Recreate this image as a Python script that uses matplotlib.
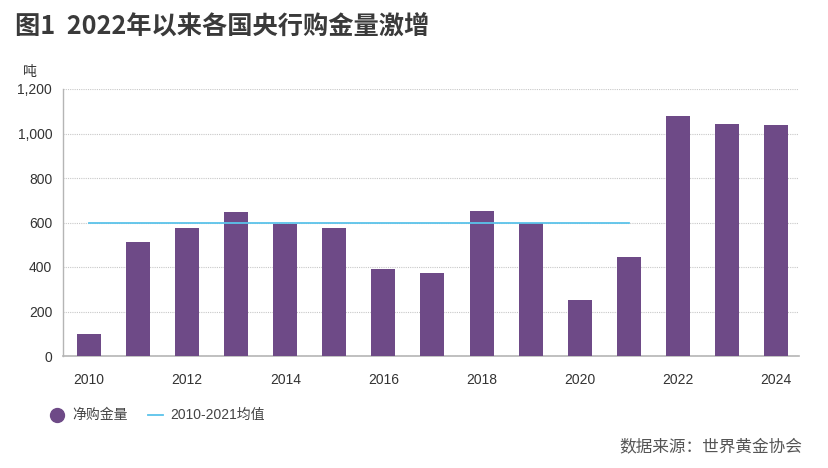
import matplotlib
matplotlib.use("Agg")
import matplotlib.pyplot as plt
from matplotlib.lines import Line2D

plt.rcParams['font.family'] = ['Liberation Sans', 'Noto Sans CJK SC', 'DejaVu Sans']

years = list(range(2010, 2025))
net_purchases = [99, 511, 577, 647, 595, 577, 391, 373, 653, 599, 250, 445, 1079, 1044, 1040]
avg_years = [2010, 2021]
avg_value = [600, 600]
yticks = [0, 200, 400, 600, 800, 1000, 1200]
ytick_labels = ["0", "200", "400", "600", "800", "1,000", "1,200"]
xticks = [2010, 2012, 2014, 2016, 2018, 2020, 2022, 2024]

title = "图1  2022年以来各国央行购金量激增"
unit = "吨"
legend_bar = "净购金量"
legend_line = "2010-2021均值"
source = "数据来源：世界黄金协会"

purple = "#6E4A87"
blue = "#5BC3EA"
gray_text = "#444444"

fig = plt.figure(figsize=(8.29, 4.68), dpi=100)
ax = fig.add_axes([63.3/829, 1-356/468, (799-63.3)/829, (356-89)/468])

ax.bar(years, net_purchases, width=0.49, color=purple, zorder=3)
ax.plot(avg_years, avg_value, color=blue, lw=1.3, zorder=4)

ax.set_ylim(0, 1200)
ax.set_xlim(2010 - 0.524, 2010 + 14.47)
ax.set_yticks(yticks)
ax.set_yticklabels(ytick_labels)
ax.set_xticks(xticks)
ax.set_xticklabels([str(x) for x in xticks])
ax.tick_params(axis='both', length=0, labelsize=10, colors="#333333")
ax.tick_params(axis='y', pad=8)
ax.tick_params(axis='x', pad=12)
ax.grid(axis='y', linestyle=(0, (1, 1)), color="#c8c8c8", lw=0.8, zorder=0)
for s in ['top', 'right']:
    ax.spines[s].set_visible(False)
ax.spines['left'].set_color("#b5b5b5")
ax.spines['bottom'].set_color("#b5b5b5")
ax.spines['left'].set_linewidth(1.0)
ax.spines['bottom'].set_linewidth(1.2)

fig.text(15/829, 1-27/468, title, fontsize=18.2, fontweight='bold', color="#3a3a3a",
         va='center', ha='left', family=['Noto Sans CJK SC', 'DejaVu Sans'])
fig.text(30/829, 1-72/468, unit, fontsize=10, style='italic', color="#333333",
         va='center', ha='center', family=['Noto Sans CJK SC', 'DejaVu Sans'])

# legend
fig.add_artist(Line2D([57/829], [1-415/468], marker='o', markersize=10, color=purple,
                      linestyle='none', transform=fig.transFigure))
fig.text(72/829, 1-415/468, legend_bar, fontsize=10, color=gray_text, va='center', ha='left',
         family=['Noto Sans CJK SC', 'DejaVu Sans'])
fig.add_artist(Line2D([148/829, 163/829], [1-415/468, 1-415/468], color=blue, lw=1.3,
                      transform=fig.transFigure))
fig.text(170/829, 1-415/468, legend_line, fontsize=10, color=gray_text, va='center', ha='left',
         family=['Liberation Sans', 'Noto Sans CJK SC'])

fig.text(802/829, 1-447/468, source, fontsize=12, color="#555555", va='center', ha='right',
         family=['Noto Sans CJK SC', 'DejaVu Sans'])

fig.savefig("out.png", dpi=100)
